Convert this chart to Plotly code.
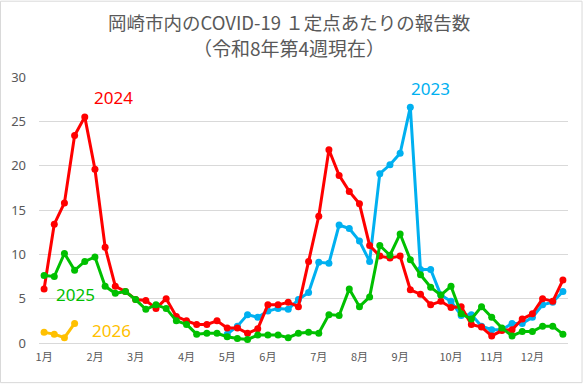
import plotly.graph_objects as go

weeks = list(range(52))
month_ticks = [0, 5, 9, 14, 18, 22, 27, 31, 35, 40, 44, 48]
month_labels = ["1月", "2月", "3月", "4月", "5月", "6月", "7月", "8月", "9月", "10月", "11月", "12月"]

title_line1 = "岡崎市内のCOVID-19 １定点あたりの報告数"
title_line2 = "（令和8年第4週現在）"

v2023 = [None] * 18 + [1.0, 1.9, 3.2, 2.9, 3.6, 3.9, 3.8, 4.9, 5.7, 9.1, 9.0, 13.3, 12.9, 11.5,
                       9.2, 19.1, 20.1, 21.4, 26.6, 8.3, 8.3, 5.4, 4.7, 3.1, 3.2, 1.9, 1.5, 1.5,
                       2.2, 2.2, 2.9, 4.3, 4.6, 5.8]
v2024 = [6.1, 13.4, 15.8, 23.4, 25.5, 19.6, 10.8, 6.4, 5.8, 4.9, 4.8, 3.9, 5.0, 3.0, 2.5, 2.1,
         2.1, 2.5, 1.7, 1.7, 1.1, 1.6, 4.3, 4.3, 4.6, 4.1, 9.2, 14.3, 21.8, 18.9, 17.1, 15.7,
         11.0, 9.8, 9.6, 9.8, 6.0, 5.5, 4.3, 4.7, 4.0, 4.1, 2.1, 1.8, 0.8, 1.4, 1.5, 2.7, 3.3,
         5.0, 4.7, 7.1]
v2025 = [7.6, 7.5, 10.1, 8.2, 9.2, 9.7, 6.4, 5.6, 5.8, 4.9, 3.8, 4.3, 3.9, 2.5, 2.1, 1.0, 1.1,
         1.1, 0.7, 0.5, 0.4, 0.9, 0.9, 0.9, 0.6, 1.1, 1.2, 1.1, 3.2, 3.1, 6.1, 4.1, 5.2, 11.0,
         9.9, 12.3, 9.4, 7.7, 6.3, 5.4, 6.4, 3.3, 2.7, 4.1, 2.9, 1.7, 0.8, 1.3, 1.3, 1.9, 1.9, 1.0]
v2026 = [1.2, 1.0, 0.6, 2.2]

series = [
    ("2023", v2023, "#00B0F0", 38.0, 28.7),
    ("2024", v2024, "#FF0000", 6.8, 27.7),
    ("2025", v2025, "#00C000", 3.1, 5.45),
    ("2026", v2026, "#FFC000", 6.6, 1.4),
]

fig = go.Figure()
for name, vals, color, lx, ly in series:
    fig.add_trace(go.Scatter(
        x=weeks[:len(vals)], y=vals, mode="lines+markers", name=name,
        line=dict(color=color, width=3), marker=dict(color=color, size=7),
        connectgaps=False,
    ))
    fig.add_annotation(x=lx, y=ly, xref="x", yref="y", text=name, showarrow=False,
                       font=dict(family="Noto Sans", size=17, color=color))

fig.update_layout(
    width=584, height=384,
    margin=dict(l=39, r=16, t=77, b=41),
    paper_bgcolor="white", plot_bgcolor="white",
    showlegend=False,
    title=dict(
        text=title_line1,
        x=0.495, xanchor="center", xref="container",
        y=1 - 23.5 / 384, yanchor="middle", yref="container",
        font=dict(family="Noto Sans CJK JP", size=18.5, color="#595959"),
    ),
    xaxis=dict(
        range=[-0.5, 51.5], tickmode="array", tickvals=month_ticks, ticktext=month_labels,
        showgrid=False, zeroline=False, showline=True, linecolor="#D9D9D9", linewidth=1,
        ticks="", tickfont=dict(family="Noto Sans CJK JP", size=11, color="#595959"),
        ticklabelstandoff=4,
    ),
    yaxis=dict(
        range=[0, 30], dtick=5, showgrid=True, gridcolor="#D9D9D9", gridwidth=1,
        zeroline=False, showline=False, ticks="",
        tickfont=dict(family="Noto Sans", size=13, color="#595959"),
        ticklabelstandoff=12,
    ),
)

fig.add_annotation(text=title_line2, xref="paper", yref="paper",
                   x=(288.5 - 39) / 529, y=(343.3 - 48) / 266,
                   xanchor="center", yanchor="middle", showarrow=False,
                   font=dict(family="Noto Sans CJK JP", size=19, color="#595959"))

fig.add_shape(type="rect", xref="paper", yref="paper",
              x0=-0.0728, x1=1.0265, y0=-0.149, y1=1.285,
              line=dict(color="#D9D9D9", width=1), fillcolor="rgba(0,0,0,0)")

fig.write_html("out.html", config={"displayModeBar": False},
               post_script="document.body.style.margin='0';document.body.style.padding='0';")
